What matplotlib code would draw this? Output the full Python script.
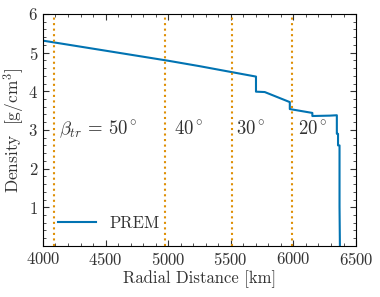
import matplotlib
matplotlib.use("Agg")
import matplotlib.pyplot as plt
from matplotlib.ticker import MultipleLocator

# PREM density profile, radius in km, density in g/cm^3
radius = [4000, 4250, 4500, 4750, 5000, 5250, 5500, 5701,
          5701, 5771, 5971, 5971, 6151, 6151, 6291, 6346.6,
          6346.6, 6356, 6356, 6368, 6368, 6371]
density = [5.31, 5.18, 5.05, 4.92, 4.79, 4.65, 4.50, 4.38,
           3.99, 3.98, 3.72, 3.54, 3.44, 3.36, 3.37, 3.38,
           2.90, 2.90, 2.60, 2.60, 1.02, 0.0]

# turning radii for the ray angles
turn_radius = [4090, 4975, 5510, 5985]
turn_labels = [r"$\beta_{tr} \,=\, 50^\circ$", r"$40^\circ$", r"$30^\circ$", r"$20^\circ$"]
label_x = [4130, 5050, 5545, 6040]

plt.rcParams.update({
    "font.family": "serif",
    "font.serif": ["cmr10"],
    "mathtext.fontset": "cm",
    "axes.formatter.use_mathtext": True,
    "font.size": 12,
    "text.color": "#333333",
    "axes.labelcolor": "#333333",
    "xtick.color": "#333333",
    "ytick.color": "#333333",
    "xtick.labelcolor": "#333333",
    "ytick.labelcolor": "#333333",
    "xtick.direction": "in",
    "ytick.direction": "in",
    "xtick.top": True,
    "ytick.right": True,
    "xtick.minor.visible": True,
    "ytick.minor.visible": True,
    "xtick.major.size": 4.5,
    "ytick.major.size": 4.5,
    "xtick.minor.size": 2.5,
    "ytick.minor.size": 2.5,
})

fig = plt.figure(figsize=(3.8, 2.97), dpi=100)
ax = fig.add_axes([0.113, 0.172, 0.824, 0.781])

ax.plot(radius, density, color="#0173b2", lw=1.5, label="PREM")
for r in turn_radius:
    ax.axvline(r, color="#de8f05", ls=":", lw=1.5)
for x, t in zip(label_x, turn_labels):
    ax.text(x, 3.02, t, va="center", ha="left", fontsize=13.5)

ax.set_xlim(4000, 6500)
ax.set_ylim(0, 6)
ax.set_yticks([1, 2, 3, 4, 5, 6])
ax.xaxis.set_minor_locator(MultipleLocator(100))
ax.yaxis.set_minor_locator(MultipleLocator(0.2))
ax.set_xlabel("Radial Distance [km]", labelpad=2)
ax.set_ylabel(r"Density $\;[\mathrm{g/cm}^3]$", fontsize=12.5, labelpad=1)
ax.legend(loc="lower left", frameon=False, bbox_to_anchor=(0.0, 0.0),
          handlelength=2.3)

fig.savefig("out.png", dpi=100)
